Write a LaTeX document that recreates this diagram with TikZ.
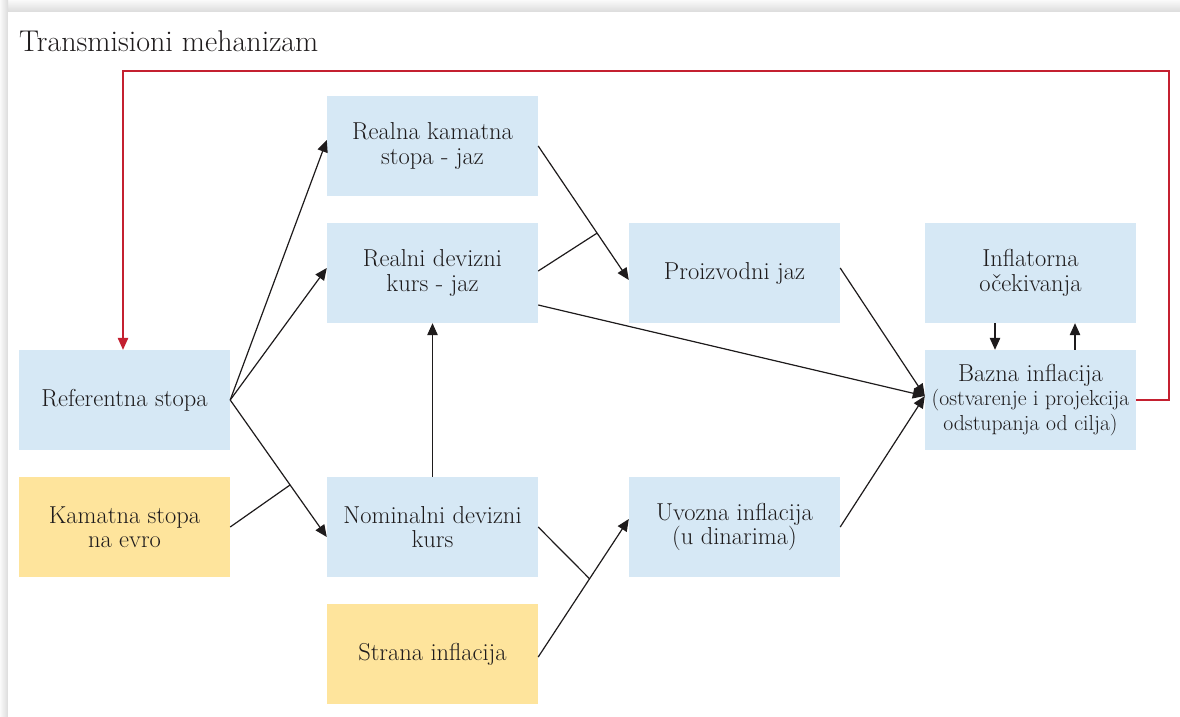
\documentclass[tikz,border=0pt]{standalone}
\usetikzlibrary{arrows.meta,calc}
\definecolor{boxblue}{RGB}{214,232,245}
\definecolor{boxyel}{RGB}{254,228,156}
\definecolor{redl}{RGB}{196,32,48}
\definecolor{txt}{RGB}{30,27,28}
\begin{document}
\begin{tikzpicture}[x=1pt,y=-1pt,
  box/.style={minimum width=211pt,minimum height=100pt,inner sep=0pt,align=center,text=txt,font=\fontsize{24.5}{24.5}\selectfont},
  bbox/.style={box,fill=boxblue},
  ybox/.style={box,fill=boxyel},
  con/.style={draw=txt,line width=1.2pt},
  arr/.style={con,-{Triangle[length=12pt,width=10.5pt]}},
  redarr/.style={draw=redl,line width=1.2pt,-{Triangle[length=12pt,width=10.5pt]}},
]
\useasboundingbox (0,0) rectangle (1180,717);
% page shadow
\fill[gray!12] (0,0) rectangle (1180,717);
\shade[top color=gray!4,bottom color=gray!28] (0,0) rectangle (1180,12);
\shade[left color=gray!4,right color=gray!28] (0,0) rectangle (8,717);
\fill[white] (8,12) rectangle (1180,717);
% title
\node[anchor=base west,inner sep=0pt,text=txt,font=\fontsize{30}{33}\selectfont] (title) at (19,52) {Transmisioni mehanizam};
% boxes
\node[bbox] (ref) at (124.5,400) {Referentna stopa};
\node[ybox] (ke) at (124.5,527) {Kamatna stopa\\na evro};
\node[bbox] (rk) at (432.5,146) {Realna kamatna\\stopa - jaz};
\node[bbox] (rd) at (432.5,273) {Realni devizni\\kurs - jaz};
\node[bbox] (nd) at (432.5,527) {Nominalni devizni\\kurs};
\node[ybox] (sf) at (432.5,654) {Strana inflacija};
\node[bbox] (pj) at (734.5,273) {Proizvodni jaz};
\node[bbox] (ui) at (734.5,527) {Uvozna inflacija\\(u dinarima)};
\node[bbox] (ie) at (1030.5,273) {Inflatorna\\o\v{c}ekivanja};
\node[bbox] (bi) at (1030.5,400) {Bazna inflacija\\{\fontsize{21.7}{24.5}\selectfont (ostvarenje i projekcija}\\{\fontsize{21.7}{24.5}\selectfont odstupanja od cilja)}};
% connectors
\coordinate (ndin) at ([yshift=-10pt]nd.west);
\draw[arr] (ref.east) -- ([yshift=6pt]rk.west);
\draw[arr] (ref.east) -- ([yshift=5pt]rd.west);
\draw[arr] (ref.east) -- (ndin);
\draw[con] (ke.east) -- ($(ref.east)!0.62!(ndin)$);
\coordinate (pjin) at ([yshift=-7pt]pj.west);
\draw[arr] (rk.east) -- (pjin);
\draw[con] ([yshift=2pt]rd.east) -- ($(rk.east)!0.65!(pjin)$);
\coordinate (biin) at ([yshift=4pt]bi.west);
\draw[arr] ([yshift=-32pt]rd.east) -- (biin);
\draw[arr] ([yshift=5pt]pj.east) -- (biin);
\draw[arr] (ui.east) -- (biin);
\draw[arr] (nd.north) -- (rd.south);
\coordinate (uiin) at ([yshift=8pt]ui.west);
\coordinate (sfout) at ([yshift=-3pt]sf.east);
\draw[arr] (sfout) -- (uiin);
\draw[con] (nd.east) -- ($(sfout)!0.567!(uiin)$);
\draw[arr] ([xshift=-35.5pt]ie.south) -- ([xshift=-35.5pt]bi.north);
\draw[arr] ([xshift=44.5pt]bi.north) -- ([xshift=44.5pt]ie.south);
\coordinate (rc) at (1169,71);
\draw[redarr] (bi.east) -| (rc) -| ([xshift=-1.5pt]ref.north);
\end{tikzpicture}
\end{document}
